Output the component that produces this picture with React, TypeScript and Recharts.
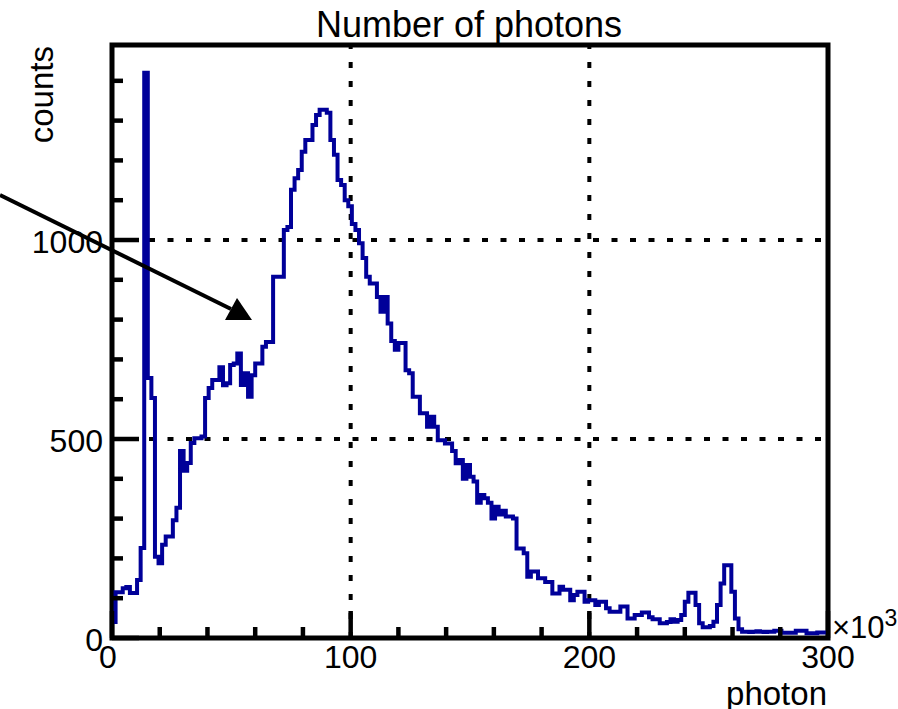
import {
  LineChart,
  Line,
  XAxis,
  YAxis,
  ReferenceLine,
  ReferenceArea,
} from "recharts";

// histogram: 200 bins of 1.5k photons from 0 to 300k
const binWidth = 1.5;
const counts = [
  40, 115, 115, 125, 128, 113, 113, 146, 226, 1420,
  653, 603, 204, 188, 234, 255, 255, 296, 327, 470,
  420, 440, 490, 502, 502, 506, 603, 628, 648, 648,
  680, 635, 640, 686, 690, 715, 636, 665, 606, 660,
  690, 690, 732, 744, 744, 908, 908, 908, 1025, 1033,
  1126, 1155, 1176, 1222, 1251, 1251, 1289, 1314, 1327, 1327,
  1320, 1251, 1214, 1151, 1138, 1100, 1085, 1040, 1025, 992,
  955, 908, 891, 891, 857, 820, 857, 790, 746, 724,
  741, 741, 673, 665, 606, 606, 565, 565, 531, 556,
  531, 497, 497, 489, 489, 470, 439, 447, 400, 435,
  405, 393, 340, 359, 351, 340, 300, 330, 310, 320,
  305, 305, 300, 225, 225, 213, 154, 167, 167, 150,
  150, 141, 141, 112, 112, 129, 121, 121, 95, 108,
  116, 116, 91, 95, 95, 83, 91, 91, 75, 66,
  66, 66, 79, 79, 49, 49, 58, 58, 64, 64,
  52, 47, 47, 37, 37, 40, 47, 41, 45, 58,
  91, 114, 114, 83, 37, 27, 27, 30, 41, 83,
  137, 183, 183, 116, 49, 22, 16, 16, 15, 16,
  17, 16, 15, 16, 16, 18, 18, 13, 13, 13,
  13, 18, 18, 18, 12, 12, 12, 14, 14, 14,
];

const xTicks = [0, 20, 40, 60, 80, 100, 120, 140, 160, 180, 200, 220, 240, 260, 280, 300];
const xLabels = [0, 100, 200, 300];
const yTicks = [0, 100, 200, 300, 400, 500, 600, 700, 800, 900, 1000, 1100, 1200, 1300, 1400];
const yLabels = [0, 500, 1000];
const gridX = [100, 200];
const gridY = [500, 1000];

const xMax = 300;
const yMax = 1490;

const data = counts.map((c, i) => ({ x: i * binWidth, count: c }));
data.push({ x: xMax, count: counts[counts.length - 1] });

const font = "'Liberation Sans', Arial, Helvetica, sans-serif";
const histColor = "#000099";

function XTick(props: any) {
  const { x, y, payload } = props;
  const v = payload.value;
  const major = xLabels.includes(v);
  return (
    <g>
      <line x1={x} x2={x} y1={y} y2={y - (major ? 27 : 11)} stroke="#000" strokeWidth={4.5} />
      {major && (
        <text x={v === 0 ? x - 4 : x} y={y + 30} textAnchor="middle" fontSize={32} fontFamily={font} fill="#000">
          {v}
        </text>
      )}
    </g>
  );
}

function YTick(props: any) {
  const { x, y, payload } = props;
  const v = payload.value;
  const major = yLabels.includes(v);
  return (
    <g>
      <line x1={x} x2={x + (major ? 27 : 11)} y1={y} y2={y} stroke="#000" strokeWidth={4.5} />
      {major && (
        <text x={x - 9} y={y + 13} textAnchor="end" fontSize={32} fontFamily={font} fill="#000">
          {v}
        </text>
      )}
    </g>
  );
}

export default function App() {
  return (
    <div style={{ position: "fixed", left: 0, top: 0, width: 898, height: 709, background: "#fff" }}>
      <LineChart width={898} height={709} data={data} margin={{ top: 45, right: 70, bottom: 0, left: 0 }}>
        <XAxis
          dataKey="x"
          type="number"
          domain={[0, xMax]}
          ticks={xTicks}
          interval={0}
          height={71}
          axisLine={false}
          tickLine={false}
          tickSize={0}
          tickMargin={0}
          tick={(p: any) => <XTick {...p} />}
        />
        <YAxis
          type="number"
          domain={[0, yMax]}
          ticks={yTicks}
          interval={0}
          width={112}
          axisLine={false}
          tickLine={false}
          tickSize={0}
          tickMargin={0}
          tick={(p: any) => <YTick {...p} />}
        />
        {gridX.map((g) => (
          <ReferenceLine key={"gx" + g} x={g} stroke="#000" strokeWidth={4} strokeDasharray="6 13" />
        ))}
        {gridY.map((g) => (
          <ReferenceLine key={"gy" + g} y={g} stroke="#000" strokeWidth={4} strokeDasharray="6 12.5" />
        ))}
        <Line
          dataKey="count"
          type="stepAfter"
          stroke={histColor}
          strokeWidth={4}
          dot={false}
          activeDot={false}
          isAnimationActive={false}
        />
        <ReferenceArea x1={0} x2={xMax} y1={0} y2={yMax} fill="none" stroke="#000" strokeWidth={5} ifOverflow="visible" />
      </LineChart>

      {/* titles and the arrow annotation */}
      <svg width={898} height={709} style={{ position: "absolute", left: 0, top: 0, pointerEvents: "none" }}>
        <text x={469} y={37} textAnchor="middle" fontSize={36} fontFamily={font} fill="#000">
          Number of photons
        </text>
        <text x={53} y={46} transform="rotate(-90 53 46)" textAnchor="end" fontSize={33} fontFamily={font} fill="#000">
          counts
        </text>
        <text x={827} y={705} textAnchor="end" fontSize={33} fontFamily={font} fill="#000">
          photon
        </text>
        <text x={832} y={638} fontSize={31} fontFamily={font} fill="#000">
          ×10<tspan dy={-12} fontSize={23}>3</tspan>
        </text>
        <line x1={0} y1={195} x2={231} y2={309} stroke="#000" strokeWidth={4} />
        <polygon points="252,320 225,320 237,298" fill="#000" />
      </svg>
    </div>
  );
}
